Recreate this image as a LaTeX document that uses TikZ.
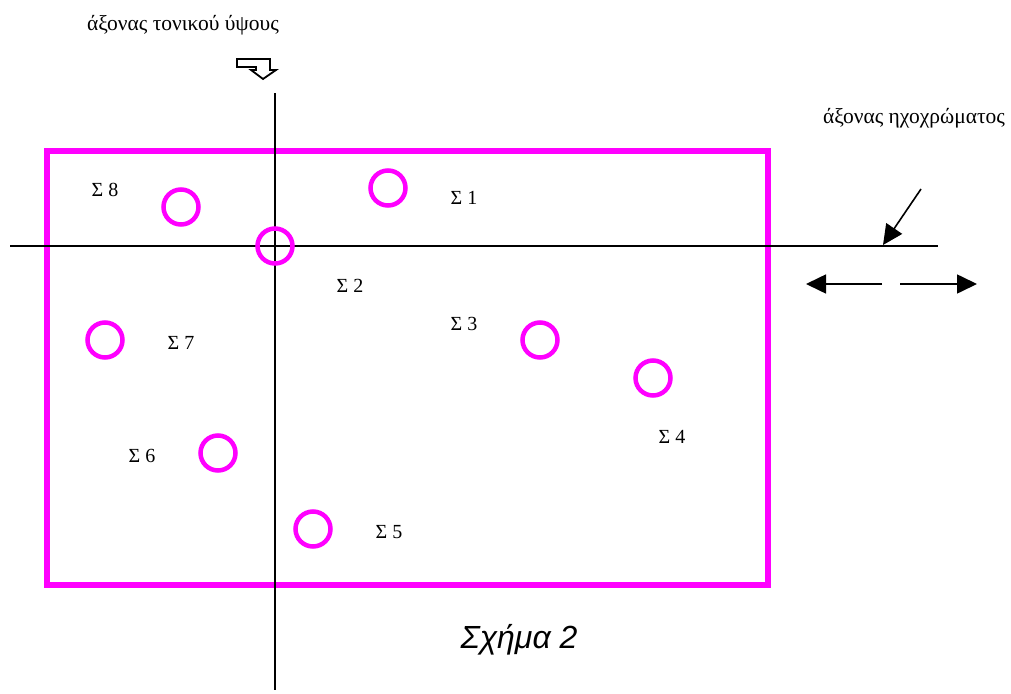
\documentclass[tikz,border=0pt]{standalone}
\usepackage{fontspec}
\setmainfont{Liberation Serif}
\newfontfamily\capfont{Liberation Sans}
\usetikzlibrary{arrows.meta}
\definecolor{mag}{RGB}{255,0,255}
\tikzset{
  ring/.style={circle,draw=mag,line width=4.5pt,minimum size=35pt,inner sep=0pt},
  lbl/.style={font=\fontsize{20}{22}\selectfont,inner sep=0pt},
  ttl/.style={font=\fontsize{21.5}{24}\selectfont,inner sep=0pt},
  axis/.style={line width=1.5pt},
  tip/.style={-{Triangle[length=20pt,width=19pt]},line width=1.6pt}
}
\begin{document}
\begin{tikzpicture}[x=1pt,y=-1pt]
\useasboundingbox (0,0) rectangle (1011,693);
% frame
\draw[mag,line width=5.5pt] (47,151) rectangle (768,585);
% axes
\coordinate (vtop) at (275,93);
\coordinate (vbot) at (275,690);
\coordinate (hl) at (10,246);
\coordinate (hr) at (938,246);
\draw[axis] (vtop) -- (vbot);
\draw[axis] (hl) -- (hr);
% circles
\node[ring] (c8) at (181,207) {};
\node[ring] (c0) at (275,246) {};
\node[ring] (c1) at (388,188) {};
\node[ring] (c7) at (105,340) {};
\node[ring] (c3) at (540,340) {};
\node[ring] (c4) at (653,378) {};
\node[ring] (c6) at (218,453) {};
\node[ring] (c5) at (313,529) {};
% labels
\node[lbl] (l8) at (105,190) {Σ 8};
\node[lbl] (l1) at (464,198) {Σ 1};
\node[lbl] (l2) at (350,286) {Σ 2};
\node[lbl] (l7) at (181,343) {Σ 7};
\node[lbl] (l3) at (464,324) {Σ 3};
\node[lbl] (l4) at (672,437) {Σ 4};
\node[lbl] (l6) at (142,456) {Σ 6};
\node[lbl] (l5) at (389,532) {Σ 5};
% axis titles
\node[ttl] (tpitch) at (183,25) {άξονας τονικού ύψους};
\node[ttl] (ttimbre) at (914,118) {άξονας ηχοχρώματος};
% hollow block arrow
\draw[line width=1.8pt,line join=miter] (237,59) -- (270,59) -- (270,70) -- (276,70) -- (263,79) -- (251,70) -- (256,70) -- (256,67) -- (237,67) -- cycle;
% pointer arrow
\coordinate (ps) at (921,189);
\coordinate (pe) at (883,245);
\draw[tip] (ps) -- (pe);
% double arrows
\coordinate (la) at (882,284);
\coordinate (lb) at (806,284);
\coordinate (ra) at (900,284);
\coordinate (rb) at (977,284);
\draw[tip] (la) -- (lb);
\draw[tip] (ra) -- (rb);
% caption
\node[font=\capfont\itshape\fontsize{32}{36}\selectfont,inner sep=0pt] (cap) at (519,640) {Σχήμα 2};
\end{tikzpicture}
\end{document}
